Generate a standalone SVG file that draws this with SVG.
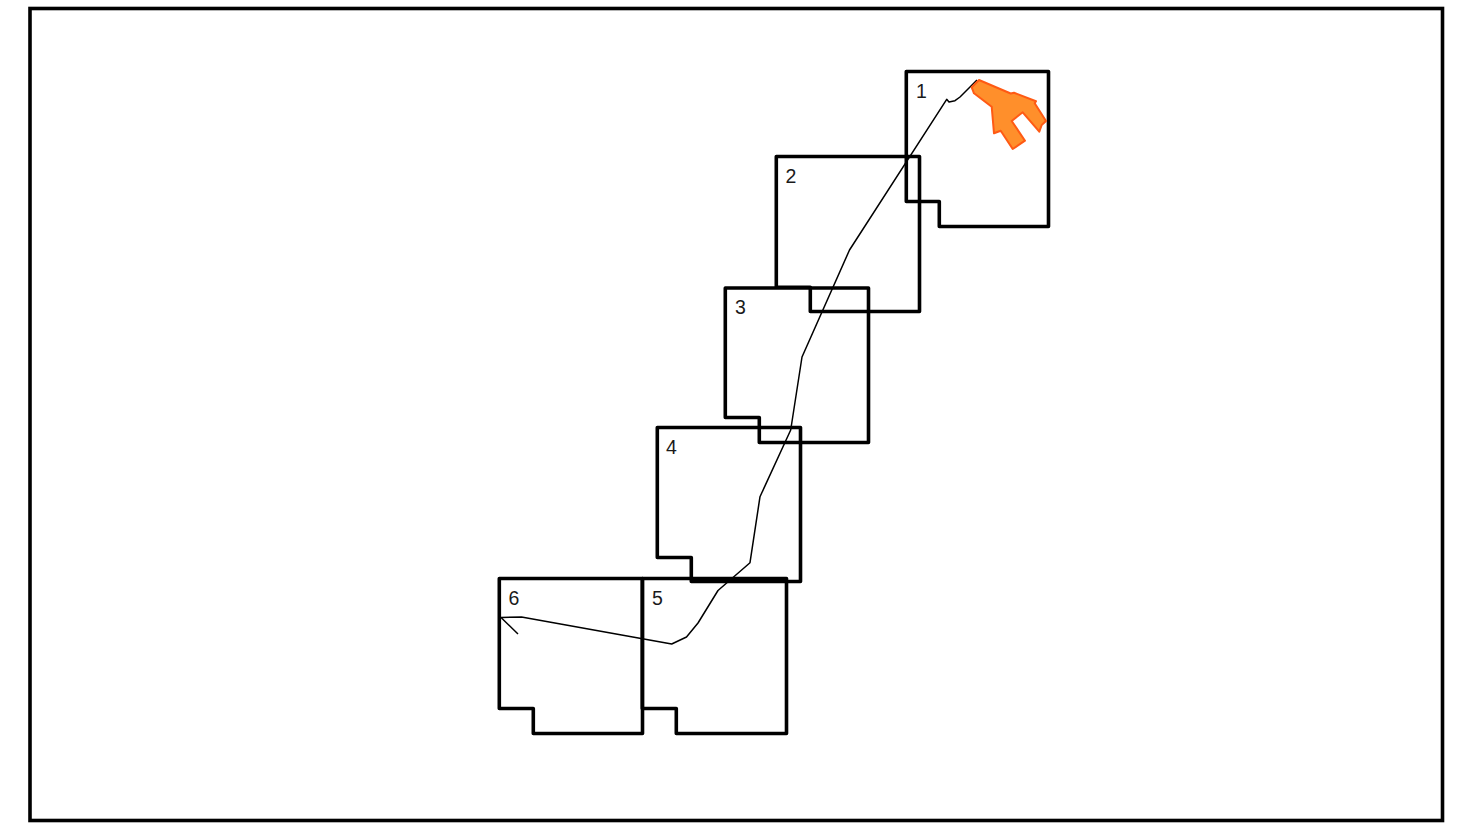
<svg xmlns="http://www.w3.org/2000/svg" width="1460" height="827" viewBox="0 0 1460 827">
<style>
.room{fill:none;stroke:#000;stroke-width:3.6;stroke-linejoin:round}
.lbl{font-family:"Liberation Sans",Arial,sans-serif;font-size:19.500px;fill:#1a1a1a}
.route{fill:none;stroke:#000;stroke-width:1.500;stroke-linejoin:round}
</style>
<rect width="1460" height="827" fill="#fff"/>
<rect id="frame" x="30" y="8.500" width="1412.500" height="812" fill="none" stroke="#000" stroke-width="3.600"/>
<g id="room-1"><path class="room" d="M906.300 71.500H1048.500V226.500H939.300V201.500H906.300Z"/><text class="lbl" x="916" y="98">1</text></g>
<g id="room-2"><path class="room" d="M776.300 156.500H919.500V311.500H810.300V287.300H776.300Z"/><text class="lbl" x="785.500" y="183">2</text></g>
<g id="room-3"><path class="room" d="M725.300 288H868.500V442.500H759.300V417.500H725.300Z"/><text class="lbl" x="735" y="314">3</text></g>
<g id="room-4"><path class="room" d="M657.300 427.500H800.500V581.500H691.300V557.500H657.300Z"/><text class="lbl" x="666" y="454">4</text></g>
<g id="room-5"><path class="room" d="M642.300 578.500H786.500V733.500H676.300V708.500H642.300Z"/><text class="lbl" x="652" y="605">5</text></g>
<g id="room-6"><path class="room" d="M499.300 578.500H642.500V733.500H533.300V708.500H499.300Z"/><text class="lbl" x="508.500" y="605">6</text></g>
<g id="connectors"><path class="route" d="M518 634L501 617.500L521.500 617L671.700 644L686.500 637L698 623L718 590.500L750 562.700L760 496.700L790.700 430L802 357L849.500 250L946.700 99.300L949 102L955 100.700L960 97L977 80"/></g>
<g id="plug"><path fill="#ff8f2b" stroke="#ff5a14" stroke-width="2" stroke-linejoin="round" d="M979 80L1010.700 93.500L1014 92.700L1036 101.300L1034.700 103.300L1046 121L1041.700 125L1039.300 131.700L1022.700 112.300L1011.700 121L1025 140.700L1012.700 149L1000.700 130.700L994 133.300L991.700 106.700L974 93.300L971.700 87.300Z"/></g>
</svg>
